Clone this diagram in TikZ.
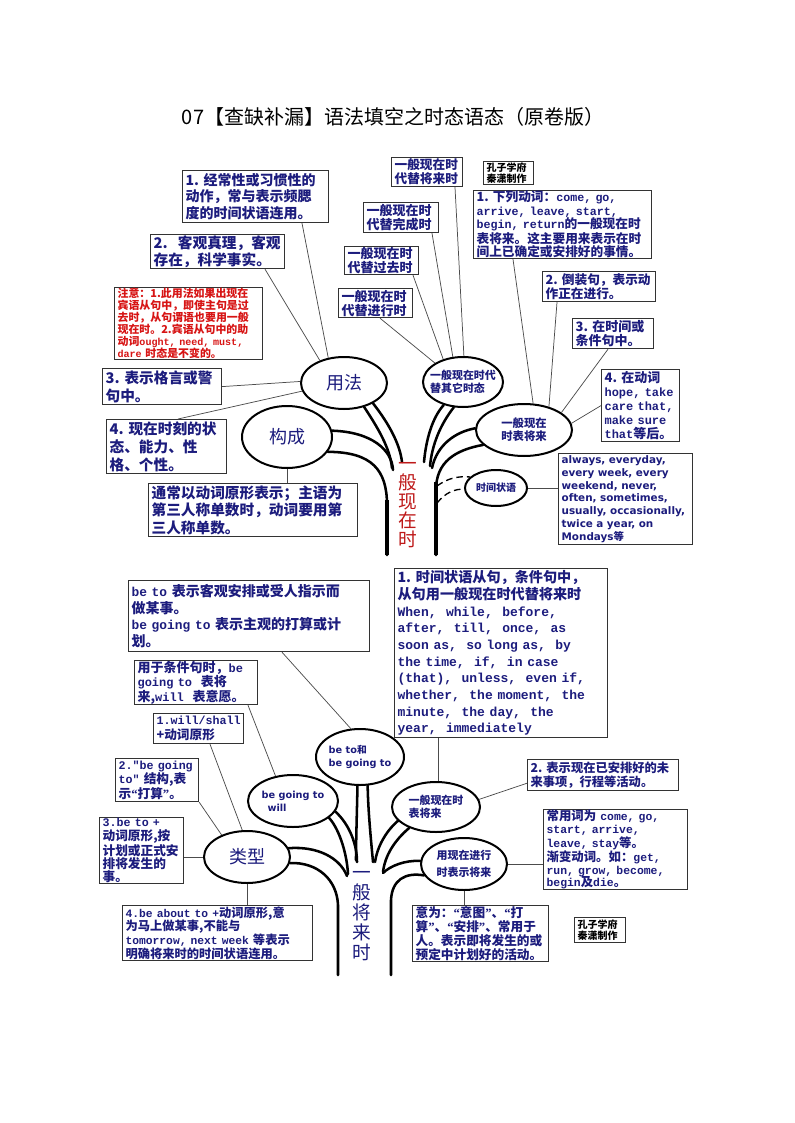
\documentclass[tikz,border=0pt]{standalone}
\usepackage{fontspec}
\setmainfont{Noto Sans CJK SC}
\setmonofont[Scale=0.92]{Liberation Mono}
\newfontfamily\vf{DejaVu Sans}
\newfontfamily\qf{Liberation Serif}
\usetikzlibrary{shapes.geometric,calc}
\definecolor{navy}{RGB}{28,28,125}
\definecolor{nred}{RGB}{215,20,20}
\definecolor{tred}{RGB}{190,25,25}
\newcommand\mt[1]{{\ttfamily\bfseries #1}}
\newcommand\fs[2]{\fontsize{#1}{#2}\selectfont}
\newcommand\oq{{\qf\bfseries “}}
\newcommand\cq{{\qf\bfseries ”}}
\begin{document}
\begin{tikzpicture}[x=0.75pt,y=-0.75pt,
  bx/.style={draw=black!80, line width=0.9pt, fill=white, anchor=north west, inner xsep=2.25pt, inner ysep=0pt, align=left, text=navy},
  wh/.style 2 args={text width=#1pt, minimum height=#2pt},
  ell/.style={ellipse, draw=black, line width=1.5pt, fill=white, inner sep=0pt},
  et/.style={text=navy, align=left, inner sep=0pt},
  br/.style={line width=1.9pt, line cap=round, draw=black},
  cn/.style={line width=0.55pt, draw=black!70},
  dsh/.style={line width=1pt, dash pattern=on 5pt off 3pt}]
\fill[white] (0,0) rectangle (794,1123);
\useasboundingbox (0,0) rectangle (794,1123);

\node[font=\fs{15}{18}] (title) at (393,117) {07【查缺补漏】语法填空之时态语态（原卷版）};

% ---------- top ellipses ----------
\node[ell, minimum width=64.5pt, minimum height=39pt] (yf) at (344,383) {};
\node[ell, minimum width=67.5pt, minimum height=46.5pt] (gc) at (287,437) {};
\node[ell, minimum width=60pt, minimum height=37.5pt] (dt) at (463,382) {};
\node[ell, minimum width=72pt, minimum height=39pt] (bj) at (524,430) {};
\node[ell, minimum width=46.5pt, minimum height=27pt] (sj) at (496,488) {};

% ---------- top tree ----------
\draw[br] (gc.-20) .. controls (372,452) and (387,470) .. (387,505) -- (387,555);
\draw[br] (gc.8) .. controls (372,432) and (392,450) .. (393,470);
\draw[br] (yf.-50) .. controls (378,428) and (390,448) .. (392,468);
\draw[br] (yf.-35) .. controls (390,425) and (400,445) .. (402,462);
\draw[br] (dt.-130) .. controls (432,418) and (426,440) .. (424,462);
\draw[br] (dt.-110) .. controls (440,425) and (432,445) .. (430,466);
\draw[br] (bj.178) .. controls (455,432) and (437,445) .. (432,468);
\draw[br] (bj.200) .. controls (455,450) and (436,462) .. (436,490) -- (436,555);
\draw[line width=3.2pt] (436,482) -- (436,555);
\draw[line width=2.6pt] (387,500) -- (387,555);
\coordinate (dc1) at (437,486);
\coordinate (dc2) at (437,503);
\draw[dsh] (dc1) .. controls (448,478) and (458,476) .. (sj.157);
\draw[dsh] (dc2) .. controls (446,492) and (455,489) .. (sj.182);

\node[et, font=\fs{13.5}{14}] (yft) at (yf) {用法};
\node[et, font=\fs{13.5}{14}] (gct) at (gc) {构成};
\node[et, font=\fs{8.2}{10}\bfseries] (dtt) at (dt) {一般现在时代\\替其它时态};
\node[et, font=\fs{8.5}{10}\bfseries] (bjt) at (bj) {一般现在\\时表将来};
\node[et, font=\fs{7.5}{9}\bfseries] (sjt) at (sj) {时间状语};
\node[text=tred, font=\fs{14}{14.3}, align=center, inner sep=0pt] (t1) at (408,505) {一\\般\\现\\在\\时};

% ---------- top boxes ----------
\node[bx, wh={105}{39}, font=\fs{10.5}{12.5}\bfseries] (a1) at (182,170) {1.~经常性或习惯性的\\动作，常与表示频腮\\度的时间状语连用。};
\node[bx, wh={96}{25.5}, font=\fs{11}{12.75}\bfseries] (a2) at (150,234) {2.\hspace{0.7em}客观真理，客观\\存在，科学事实。};
\node[bx, wh={106.5}{54}, text=nred, font=\fs{8.2}{9}\bfseries] (a3) at (114,287) {注意：1.此用法如果出现在\\宾语从句中，即使主句是过\\去时，从句谓语也要用一般\\现在时。2.宾语从句中的助\\动词\mt{ought,~need,~must,}\\\mt{dare}~时态是不变的。};
\node[bx, wh={84.75}{27}, font=\fs{11}{13.5}\bfseries] (a4) at (102,368) {3.~表示格言或警\\句中。};
\node[bx, wh={85.5}{40.5}, font=\fs{11}{13.5}\bfseries] (a5) at (106,419) {4.~现在时刻的状\\态、能力、性\\格、个性。};
\node[bx, wh={152.25}{39.75}, font=\fs{11}{13}\bfseries] (a6) at (148,483) {通常以动词原形表示；主语为\\第三人称单数时，动词要用第\\三人称单数。};
\node[bx, wh={48.75}{21.75}, font=\fs{9.5}{10.5}\bfseries] (b1) at (391,157) {一般现在时\\代替将来时};
\node[bx, wh={51.75}{22.5}, font=\fs{9.75}{10.5}\bfseries] (b2) at (363,202) {一般现在时\\代替完成时};
\node[bx, wh={51}{21}, font=\fs{9.75}{10.5}\bfseries] (b3) at (344,246) {一般现在时\\代替过去时};
\node[bx, wh={51}{21.75}, font=\fs{9.75}{10.5}\bfseries] (b4) at (338,288) {一般现在时\\代替进行时};
\node[bx, text=black, wh={33}{17.25}, font=\fs{7.5}{8.2}\bfseries] (w1) at (483,161) {孔子学府\\秦潇制作};
\node[bx, wh={129}{51}, font=\fs{9.5}{10}\bfseries] (c1) at (473,190) {1.~下列动词：\mt{come,~go,}\\\mt{arrive,~leave,~start,}\\\mt{begin,~return}的一般现在时\\表将来。这主要用来表示在时\\间上已确定或安排好的事情。};
\node[bx, wh={80.25}{22.5}, font=\fs{9.5}{11}\bfseries] (c2) at (542,271) {2.~倒装句，表示动\\作正在进行。};
\node[bx, wh={56.25}{22.5}, font=\fs{9.75}{11}\bfseries] (c3) at (572,318) {3.~在时间或\\条件句中。};
\node[bx, wh={54}{54}, font=\fs{9.75}{10.5}\bfseries] (c4) at (601,369) {4.~在动词\\\mt{hope,~take}\\\mt{care~that,}\\\mt{make~sure}\\\mt{that}等后。};
\node[bx, wh={96}{68.25}, font=\fs{7.8}{9.6}\vf\bfseries] (c5) at (558,453) {always,~everyday,\\every~week,~every\\weekend,~never,\\often,~sometimes,\\usually,~occasionally,\\twice~a~year,~on\\Mondays{\rmfamily\bfseries 等}};

% ---------- top connectors ----------
\draw[cn] ($(a1.south west)+(120,0)$) -- (yf.122);
\draw[cn] ($(a2.south west)+(115,0)$) -- (yf.137);
\draw[cn] (a4.east) -- (yf.178);
\draw[cn] ($(a5.north west)+(72,0)$) -- (yf.191);
\draw[cn] (gc.south) -- (gc.south |- a6.north);
\draw[cn] ($(b1.south west)+(64,0)$) -- (dt.88);
\draw[cn] ($(b2.south west)+(69,0)$) -- (dt.112);
\draw[cn] ($(b3.south west)+(69,0)$) -- (dt.131);
\draw[cn] ($(b4.south west)+(42,0)$) -- (dt.146);
\draw[cn] ($(c1.south west)+(40,0)$) -- (bj.71);
\draw[cn] ($(c2.south west)+(15,0)$) -- (bj.43);
\draw[cn] ($(c3.south west)+(36,0)$) -- (bj.25);
\draw[cn] (c4.west) -- (bj.8);
\draw[cn] (sj.east) -- (sj.east -| c5.west);

% ---------- bottom ellipses ----------
\node[ell, minimum width=64.5pt, minimum height=39pt] (lx) at (247,857) {};
\node[ell, minimum width=67.5pt, minimum height=39pt] (bgw) at (293,801) {};
\node[ell, minimum width=66pt, minimum height=42pt] (btb) at (360,757) {};
\node[ell, minimum width=66pt, minimum height=37.5pt] (xjl) at (436,807) {};
\node[ell, minimum width=64.5pt, minimum height=39pt] (yxj) at (464,864) {};

% ---------- bottom tree ----------
\draw[br] (lx.12) .. controls (318,846) and (340,858) .. (347,876);
\draw[br] (lx.-8) .. controls (318,862) and (337,880) .. (338,905) -- (338,975);
\draw[br] (bgw.-25) .. controls (340,830) and (347,855) .. (348,874);
\draw[br] (bgw.-14) .. controls (350,825) and (357,845) .. (357,862);
\draw[br] (btb.-95) .. controls (357,810) and (356,840) .. (356,860);
\draw[br] (btb.-75) .. controls (368,810) and (371,840) .. (373,862);
\draw[br] (xjl.200) .. controls (385,832) and (377,848) .. (375,862);
\draw[br] (xjl.218) .. controls (395,840) and (385,855) .. (383,872);
\draw[br] (yxj.176) .. controls (405,860) and (390,866) .. (383,873);
\draw[br] (yxj.196) .. controls (405,872) and (392,880) .. (391,900) -- (391,975);

\node[et, font=\fs{13.5}{14}] (lxt) at (lx) {类型};
\node[et, font=\fs{7.3}{9.5}\vf\bfseries] (bgwt) at (bgw) {be going to\\\hspace{0.6em}will};
\node[et, font=\fs{7.3}{9.75}\vf\bfseries] (btbt) at (btb) {be to{\rmfamily\bfseries 和}\\be going to};
\node[et, font=\fs{8.2}{10}\bfseries] (xjlt) at (xjl) {一般现在时\\表将来};
\node[et, font=\fs{8.2}{13}\bfseries] (yxjt) at (yxj) {用现在进行\\时表示将来};
\node[text=navy, font=\fs{14}{15}, align=center, inner sep=0pt] (t2) at (362,916) {一\\般\\将\\来\\时};

% ---------- bottom boxes ----------
\node[bx, wh={176.25}{53.25}, font=\fs{10.5}{12.5}\bfseries] (d1) at (128,580) {\mt{be~to}~表示客观安排或受人指示而\\做某事。\\\mt{be~going~to}~表示主观的打算或计\\划。};
\node[bx, wh={87.75}{33}, font=\fs{9.75}{11}\bfseries] (d2) at (134,660) {用于条件句时，\mt{be}\\\mt{going~to}~~表将\\来,\mt{will}~~表意愿。};
\node[bx, wh={63}{22.5}, font=\fs{9.5}{11}\bfseries] (d3) at (153,713) {\mt{1.will/shall}\\+动词原形};
\node[bx, wh={57.75}{32.25}, font=\fs{9.5}{10.75}\bfseries] (d4) at (115,758) {\mt{2."be~going}\\\mt{to"}~结构,表\\示\oq 打算\cq。};
\node[bx, wh={58.5}{49.5}, font=\fs{9.5}{9.9}\bfseries] (d5) at (99,817) {\mt{3.be~to~+}\\动词原形,按\\计划或正式安\\排将发生的\\事。};
\node[bx, wh={138}{41.25}, font=\fs{9.2}{10.2}\bfseries] (d6) at (122,905) {\mt{4.be~about~to~+}动词原形,意\\为马上做某事,不能与\\\mt{tomorrow,~next~week}~等表示\\明确将来时的时间状语连用。};
\node[bx, wh={155.25}{126.75}, font=\fs{10.6}{12.5}\bfseries] (e1) at (394,568) {1.~时间状语从句，条件句中，\\从句用一般现在时代替将来时\\\mt{When,~~while,~~before,}\\\mt{after,~~till,~~once,~~as}\\\mt{soon~as,~~so~long~as,~~by}\\\mt{the~time,~~if,~~in~case}\\\mt{(that),~~unless,~~even~if,}\\\mt{whether,~~the~moment,~~the}\\\mt{minute,~~the~day,~~the}\\\mt{year,~~immediately}};
\node[bx, wh={108.75}{23.25}, font=\fs{9.2}{11}\bfseries] (e2) at (527,759) {2.~表示现在已安排好的未\\来事项，行程等活动。};
\node[bx, wh={103.5}{60}, font=\fs{9.3}{9.5}\bfseries] (e3) at (543,809) {常用词为~\mt{come,~go,}\\\mt{start,~arrive,}\\\mt{leave,~stay}等。\\渐变动词。如：\mt{get,}\\\mt{run,~grow,~become,}\\\mt{begin}及\mt{die}。};
\node[bx, wh={97.5}{42}, font=\fs{9.5}{10.3}\bfseries] (e4) at (412,905) {意为：\oq 意图\cq、\oq 打\\算\cq、\oq 安排\cq、常用于\\人。表示即将发生的或\\预定中计划好的活动。};
\node[bx, text=black, wh={33.75}{18.75}, font=\fs{7.5}{8.5}\bfseries] (w2) at (574,917) {孔子学府\\秦潇制作};

% ---------- bottom connectors ----------
\draw[cn] ($(d1.south west)+(154,0)$) -- (btb.108);
\draw[cn] ($(d2.south west)+(114,0)$) -- (bgw.125);
\draw[cn] ($(d3.south west)+(57,0)$) -- (lx.100);
\draw[cn] (d4.south east) -- (lx.139);
\draw[cn] (lx.west) -- (lx.west -| d5.east);
\draw[cn] (lx.south) -- (lx.south |- d6.north);
\draw[cn] (xjl.84) -- (xjl.84 |- e1.south);
\draw[cn] ($(e2.south west)+(0,-8)$) -- (xjl.10);
\draw[cn] (yxj.east) -- (yxj.east -| e3.west);
\draw[cn] (yxj.south) -- (yxj.south |- e4.north);
\end{tikzpicture}
\end{document}
